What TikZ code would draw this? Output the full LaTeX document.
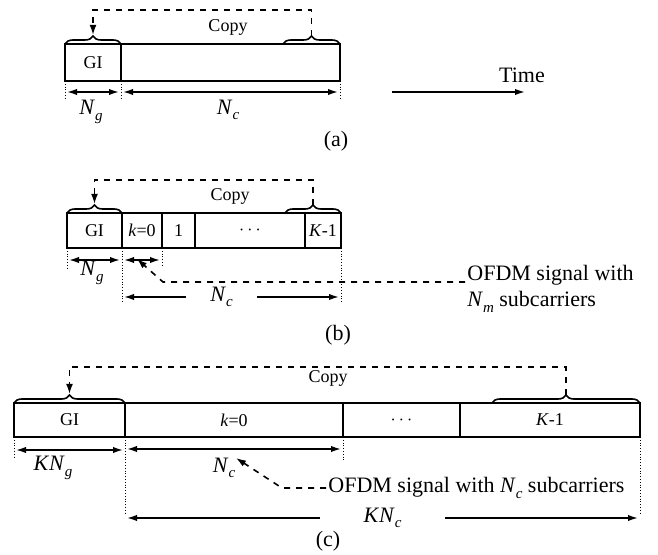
\documentclass[tikz,border=0pt]{standalone}
\usepackage{fontspec}
\setmainfont{Liberation Serif}
\usetikzlibrary{positioning,arrows.meta,decorations.pathreplacing}

% italic symbol with a lowered italic subscript
\newcommand{\symsub}[2]{\textit{#1}\raisebox{-0.55ex}{\fontsize{7.5}{8}\selectfont\textit{#2}}}

\begin{document}
\begin{tikzpicture}[
x=0.5pt, y=-0.5pt,
cell/.style={draw, thick, inner sep=0pt, outer sep=0pt, font=\fontsize{9}{10}\selectfont},
brace/.style={decorate, decoration={brace, amplitude=4pt}, thick},
copyline/.style={dashed, thick, -{Latex[length=5pt, width=3.4pt]}},
dim/.style={{Latex[length=5pt, width=3.2pt]}-{Latex[length=5pt, width=3.2pt]}, thick},
guide/.style={densely dotted, thin},
lbl/.style={font=\fontsize{11}{13}\selectfont, inner sep=1pt},
small/.style={font=\fontsize{9}{10}\selectfont, inner sep=1pt}
]
\useasboundingbox (0,0) rectangle (658,555);

% ---------- (a) ----------
\node[cell, minimum width=28pt, minimum height=18.5pt] (agi) at (93,62.5) {GI};
\node[cell, minimum width=109.5pt, minimum height=18.5pt, anchor=west] (abody) at (agi.east) {};
\coordinate (acopy) at (283,44);
\draw[brace] (agi.north west) -- (agi.north east);
\draw[brace] (acopy) -- (abody.north east);
\coordinate (atipl) at (93,35);
\coordinate (atipr) at (311.5,36);
\draw[copyline] (atipr) -- ++(0,-26) -| (atipl);
\node[small] (acp) at (228,27) {Copy};
\draw[guide] (agi.south west) -- ++(0,19);
\draw[guide] (agi.south east) -- ++(0,19);
\draw[guide] (abody.south east) -- ++(0,19);
\draw[dim] ([xshift=1pt, yshift=-5.5pt]agi.south west) -- ([xshift=-1pt, yshift=-5.5pt]agi.south east);
\draw[dim] ([xshift=1pt, yshift=-5.5pt]abody.south west) -- ([xshift=-1pt, yshift=-5.5pt]abody.south east);
\node[lbl] (ang) at (91,112) {\symsub{N}{g}};
\node[lbl] (anc) at (228,110) {\symsub{N}{c}};
\coordinate (tstart) at (392,92);
\coordinate (tend) at (525,92);
\draw[thick, -{Latex[length=5pt, width=3.2pt]}] (tstart) -- (tend);
\node[lbl] (time) at (522,75) {Time};
\node[lbl] (capa) at (336,141) {(a)};

% ---------- (b) ----------
\node[cell, minimum width=27.5pt, minimum height=17.5pt] (bgi) at (94.5,230.5) {GI};
\node[cell, minimum width=20pt, minimum height=17.5pt, anchor=west] (bk0) at (bgi.east) {\textit{k}=0};
\node[cell, minimum width=16.5pt, minimum height=17.5pt, anchor=west] (bk1) at (bk0.east) {1};
\node[cell, minimum width=55pt, minimum height=17.5pt, anchor=west] (bdots) at (bk1.east) {$\cdots$};
\node[cell, minimum width=18pt, minimum height=17.5pt, anchor=west] (bkl) at (bdots.east) {\textit{K}-1};
\coordinate (bcopy) at (285,213);
\draw[brace] (bgi.north west) -- (bgi.north east);
\draw[brace] (bcopy) -- (bkl.north east);
\coordinate (btipl) at (94.5,204);
\coordinate (btipr) at (313,205);
\draw[copyline] (btipr) -- ++(0,-25) -| (btipl);
\node[small] (bcp) at (230,196) {Copy};
\draw[guide] (bgi.south west) -- ++(0,20);
\draw[guide] (bk0.south west) -- ++(0,54);
\draw[guide] (bk0.south east) -- ++(0,18);
\draw[guide] (bkl.south east) -- ++(0,54);
\draw[dim] ([xshift=1pt, yshift=-6pt]bgi.south west) -- ([xshift=-1pt, yshift=-6pt]bgi.south east);
\draw[dim] ([xshift=1pt, yshift=-6pt]bk0.south west) -- ([xshift=-1pt, yshift=-6pt]bk0.south east);
\node[lbl] (bng) at (92,273) {\symsub{N}{g}};
\draw[dim] ([xshift=1pt, yshift=-24.5pt]bk0.south west) -- ([xshift=-1pt, yshift=-24.5pt]bkl.south east)
  node[lbl, midway, fill=white, inner xsep=12pt, xshift=-5pt] (bnc) {\symsub{N}{c}};
\node[lbl, anchor=west, align=left] (bnote) at (465,289) {OFDM signal with\\\symsub{N}{m} subcarriers};
\coordinate (bbend) at (163,282);
\coordinate (barrow) at (137,259);
\draw[copyline] (bnote.west |- bbend) -- (bbend) -- (barrow);
\node[lbl] (capb) at (338,335) {(b)};

% ---------- (c) ----------
\node[cell, minimum width=55.5pt, minimum height=17pt] (cgi) at (69.5,420) {GI};
\node[cell, minimum width=109pt, minimum height=17pt, anchor=west] (ck0) at (cgi.east) {\textit{k}=0};
\node[cell, minimum width=58.5pt, minimum height=17pt, anchor=west] (cdots) at (ck0.east) {$\cdots$};
\node[cell, minimum width=90pt, minimum height=17pt, anchor=west] (ckl) at (cdots.east) {\textit{K}-1};
\coordinate (ccopy) at (492,403);
\draw[brace] (cgi.north west) -- (cgi.north east);
\draw[brace] (ccopy) -- (ckl.north east);
\coordinate (ctipl) at (69.5,394);
\coordinate (ctipr) at (566,395);
\draw[copyline] (ctipr) -- ++(0,-28) -| (ctipl);
\node[small] (ccp) at (328,378) {Copy};
\draw[guide] (cgi.south west) -- ++(0,21);
\draw[guide] (ck0.south west) -- ++(0,78);
\draw[guide] (ck0.south east) -- ++(0,25);
\draw[guide] (ckl.south east) -- ++(0,78);
\draw[dim] ([xshift=1pt, yshift=-6.5pt]cgi.south west) -- ([xshift=-1pt, yshift=-6.5pt]cgi.south east);
\draw[dim] ([xshift=1pt, yshift=-6pt]ck0.south west) -- ([xshift=-1pt, yshift=-6pt]ck0.south east);
\node[lbl] (cng) at (53,468) {\textit{K}\symsub{N}{g}};
\node[lbl] (cnc) at (224,468) {\symsub{N}{c}};
\node[lbl, anchor=west] (cnote) at (326,488) {OFDM signal with \symsub{N}{c} subcarriers};
\coordinate (cbend) at (282,488);
\coordinate (carrow) at (236,458);
\draw[copyline] (cnote.west) -- (cbend) -- (carrow);
\draw[dim] ([xshift=1pt, yshift=-40.5pt]ck0.south west) -- ([xshift=-1pt, yshift=-40.5pt]ckl.south east)
  node[lbl, midway, fill=white, inner xsep=22pt, xshift=0pt] (cknc) {\textit{K}\symsub{N}{c}};
\node[lbl] (capc) at (328,541) {(c)};
\end{tikzpicture}
\end{document}
